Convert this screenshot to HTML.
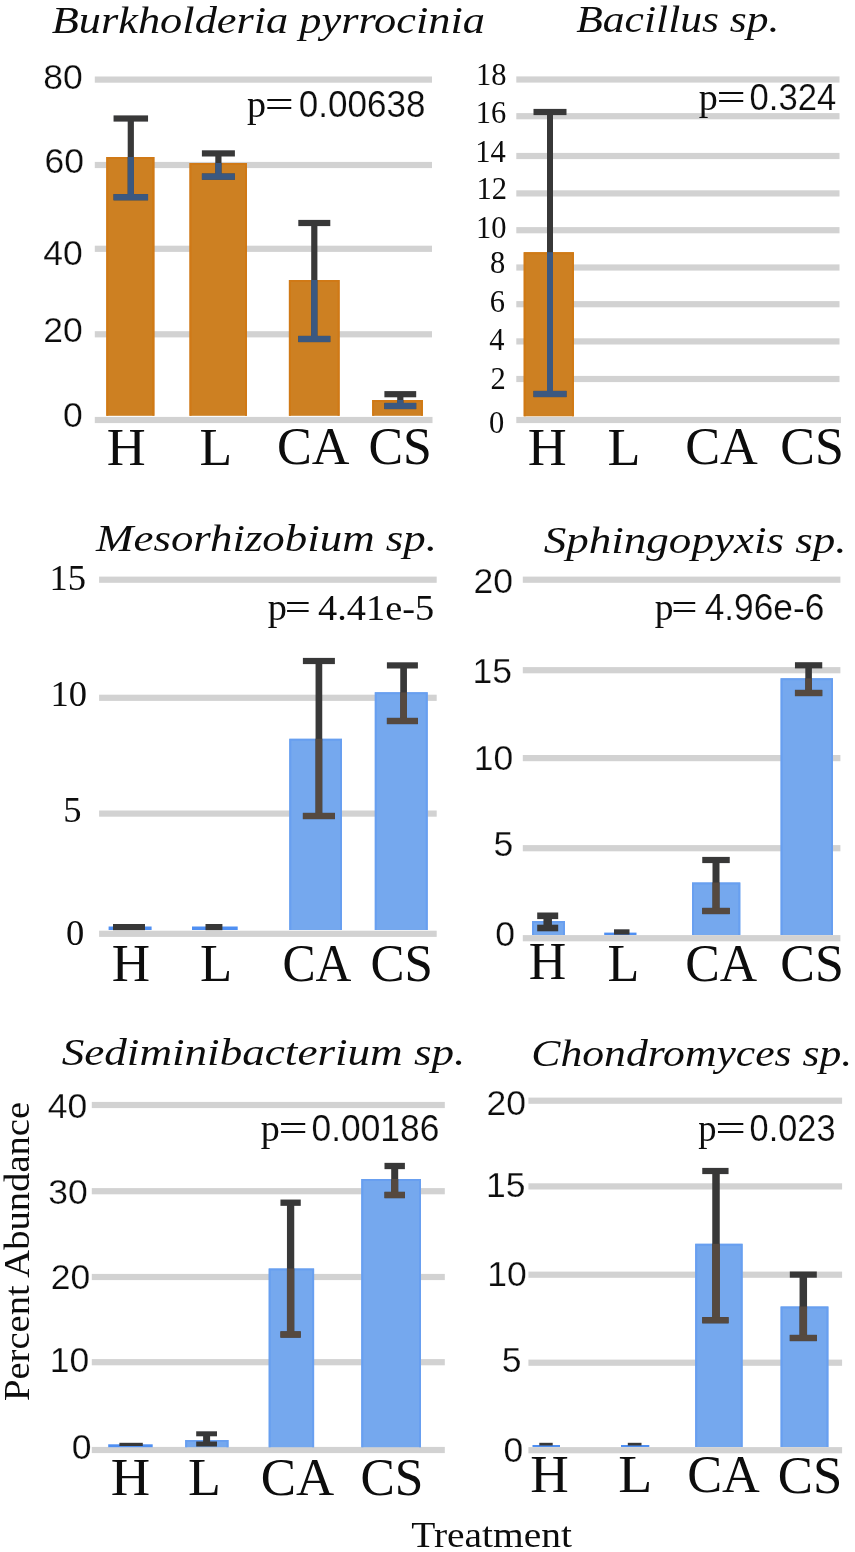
<!DOCTYPE html>
<html><head><meta charset="utf-8"><title>Figure</title>
<style>
html,body{margin:0;padding:0;background:#fff;}
body{width:855px;height:1552px;overflow:hidden;font-family:"Liberation Serif",serif;}
svg{display:block;}
svg text{fill:#0a0a0a;white-space:pre;}
</style></head>
<body>
<svg width="855" height="1552" viewBox="0 0 855 1552">
<defs><filter id="soft" x="0" y="0" width="100%" height="100%" filterUnits="userSpaceOnUse"><feGaussianBlur stdDeviation="0.5"/></filter></defs>
<rect x="0" y="0" width="855" height="1552" fill="#ffffff"/>
<g filter="url(#soft)">
<rect x="0" y="0" width="855" height="1552" fill="#ffffff"/>
<g>
<!-- Burkholderia -->
<rect x="94.8" y="76.5" width="337.2" height="6.2" fill="#d2d2d2"/>
<rect x="94.8" y="161.9" width="337.2" height="6.2" fill="#d2d2d2"/>
<rect x="94.8" y="245.7" width="337.2" height="6.2" fill="#d2d2d2"/>
<rect x="94.8" y="331.2" width="337.2" height="6.2" fill="#d2d2d2"/>
<rect x="94.8" y="416.9" width="337.7" height="6.2" fill="#d2d2d2"/>
<rect x="106.3" y="157" width="48.1" height="258.8" fill="#cd8023"/>
<path d="M107.3 415.8 V158 H153.4 V415.8" fill="none" stroke="#d07914" stroke-width="2"/>
<rect x="189.5" y="163" width="57.5" height="252.8" fill="#cd8023"/>
<path d="M190.5 415.8 V164 H246 V415.8" fill="none" stroke="#d07914" stroke-width="2"/>
<rect x="288.9" y="280" width="50.7" height="135.8" fill="#cd8023"/>
<path d="M289.9 415.8 V281 H338.6 V415.8" fill="none" stroke="#d07914" stroke-width="2"/>
<rect x="372.2" y="400" width="50.7" height="15.8" fill="#cd8023"/>
<path d="M373.2 415.8 V401 H421.9 V415.8" fill="none" stroke="#d07914" stroke-width="2"/>
<rect x="127.7" y="118.5" width="6.2" height="78.7" fill="#383839"/>
<rect x="113.55" y="115.4" width="34.5" height="6.2" fill="#383839"/>
<rect x="113.55" y="194.1" width="34.5" height="6.2" fill="#383839"/>
<rect x="127.7" y="157" width="6.2" height="40.2" fill="#3b5980"/>
<rect x="113.55" y="194.1" width="34.5" height="6.2" fill="#3b5980"/>
<rect x="215.3" y="153.4" width="6.2" height="23.2" fill="#383839"/>
<rect x="201.9" y="150.3" width="33.0" height="6.2" fill="#383839"/>
<rect x="201.9" y="173.5" width="33.0" height="6.2" fill="#383839"/>
<rect x="215.3" y="163" width="6.2" height="13.6" fill="#3b5980"/>
<rect x="201.9" y="173.5" width="33.0" height="6.2" fill="#3b5980"/>
<rect x="311.2" y="223" width="6.2" height="116" fill="#383839"/>
<rect x="298.3" y="219.9" width="32.0" height="6.2" fill="#383839"/>
<rect x="298.3" y="335.9" width="32.0" height="6.2" fill="#383839"/>
<rect x="311.2" y="280" width="6.2" height="59" fill="#3b5980"/>
<rect x="298.3" y="335.9" width="32.0" height="6.2" fill="#3b5980"/>
<rect x="397.2" y="394.2" width="6.2" height="11.8" fill="#383839"/>
<rect x="384.4" y="391.1" width="31.8" height="6.2" fill="#383839"/>
<rect x="384.4" y="402.9" width="31.8" height="6.2" fill="#383839"/>
<rect x="397.2" y="400" width="6.2" height="6" fill="#3b5980"/>
<rect x="384.4" y="402.9" width="31.8" height="6.2" fill="#3b5980"/>
<!-- Bacillus -->
<rect x="516.3" y="76.4" width="323.2" height="6.2" fill="#d2d2d2"/>
<rect x="516.3" y="113.1" width="323.2" height="6.2" fill="#d2d2d2"/>
<rect x="516.3" y="152.9" width="323.2" height="6.2" fill="#d2d2d2"/>
<rect x="516.3" y="190.3" width="323.2" height="6.2" fill="#d2d2d2"/>
<rect x="516.3" y="227.1" width="323.2" height="6.2" fill="#d2d2d2"/>
<rect x="516.3" y="264.4" width="323.2" height="6.2" fill="#d2d2d2"/>
<rect x="516.3" y="301.1" width="323.2" height="6.2" fill="#d2d2d2"/>
<rect x="516.3" y="338.3" width="323.2" height="6.2" fill="#d2d2d2"/>
<rect x="516.3" y="375.9" width="323.2" height="6.2" fill="#d2d2d2"/>
<rect x="516.3" y="416.9" width="324.7" height="6.2" fill="#d2d2d2"/>
<rect x="523.7" y="252.2" width="50.2" height="164.1" fill="#cd8023"/>
<path d="M524.7 416.3 V253.2 H572.9 V416.3" fill="none" stroke="#d07914" stroke-width="2"/>
<rect x="547.0" y="112" width="6.0" height="282" fill="#383839"/>
<rect x="533.5" y="108.9" width="33.0" height="6.2" fill="#383839"/>
<rect x="533.5" y="390.9" width="33.0" height="6.2" fill="#383839"/>
<rect x="547.0" y="252.2" width="6.0" height="141.8" fill="#3b5980"/>
<rect x="533.5" y="390.9" width="33.0" height="6.2" fill="#3b5980"/>
<!-- Mesorhizobium -->
<rect x="99.1" y="576.6" width="337.6" height="6.2" fill="#d2d2d2"/>
<rect x="99.1" y="694.7" width="337.6" height="6.2" fill="#d2d2d2"/>
<rect x="99.1" y="810.5" width="337.6" height="6.2" fill="#d2d2d2"/>
<rect x="99.1" y="930.7" width="337.6" height="6.2" fill="#d2d2d2"/>
<rect x="108.6" y="926.5" width="43.0" height="3.5" fill="#4f8ff2"/>
<rect x="192" y="926.5" width="45.7" height="3.5" fill="#4f8ff2"/>
<rect x="289.3" y="738.8" width="52.7" height="191.2" fill="#74a8ee"/>
<path d="M290.3 930 V739.8 H341 V930" fill="none" stroke="#689ff0" stroke-width="2"/>
<rect x="374.8" y="692.3" width="52.9" height="237.7" fill="#74a8ee"/>
<path d="M375.8 930 V693.3 H426.7 V930" fill="none" stroke="#689ff0" stroke-width="2"/>
<rect x="113" y="924" width="32" height="6.2" fill="#383839"/>
<rect x="205.5" y="924" width="16.9" height="6.2" fill="#383839"/>
<rect x="315.55" y="661" width="6.7" height="155" fill="#383839"/>
<rect x="302.9" y="657.9" width="32.0" height="6.2" fill="#383839"/>
<rect x="302.9" y="812.9" width="32.0" height="6.2" fill="#383839"/>
<rect x="315.55" y="738.8" width="6.7" height="77.2" fill="#55493f"/>
<rect x="302.9" y="812.9" width="32.0" height="6.2" fill="#55493f"/>
<rect x="400.25" y="665.4" width="6.7" height="55.6" fill="#383839"/>
<rect x="386.9" y="662.3" width="31.0" height="6.2" fill="#383839"/>
<rect x="386.9" y="717.9" width="31.0" height="6.2" fill="#383839"/>
<rect x="400.25" y="692.3" width="6.7" height="28.7" fill="#55493f"/>
<rect x="386.9" y="717.9" width="31.0" height="6.2" fill="#55493f"/>
<!-- Sphingopyxis -->
<rect x="522.8" y="576.6" width="317.6" height="6.2" fill="#d2d2d2"/>
<rect x="522.8" y="667.1" width="317.6" height="6.2" fill="#d2d2d2"/>
<rect x="522.8" y="755.0" width="317.6" height="6.2" fill="#d2d2d2"/>
<rect x="522.8" y="845.1" width="317.6" height="6.2" fill="#d2d2d2"/>
<rect x="522.8" y="935.1" width="317.6" height="6.2" fill="#d2d2d2"/>
<rect x="532" y="921" width="33" height="14" fill="#74a8ee"/>
<path d="M533 935 V922 H564 V935" fill="none" stroke="#689ff0" stroke-width="2"/>
<rect x="604.2" y="932.6" width="32.3" height="2.4" fill="#4f8ff2"/>
<rect x="692" y="882.5" width="48.3" height="52.5" fill="#74a8ee"/>
<path d="M693 935 V883.5 H739.3 V935" fill="none" stroke="#689ff0" stroke-width="2"/>
<rect x="780.6" y="678.3" width="52.4" height="256.7" fill="#74a8ee"/>
<path d="M781.6 935 V679.3 H832 V935" fill="none" stroke="#689ff0" stroke-width="2"/>
<rect x="543.45" y="915.8" width="8.5" height="12.2" fill="#383839"/>
<rect x="537.2" y="912.5" width="21.0" height="6.6" fill="#383839"/>
<rect x="537.2" y="924.7" width="21.0" height="6.6" fill="#383839"/>
<rect x="614" y="929.3" width="15.5" height="5.3" fill="#383839"/>
<rect x="712.5" y="860" width="7.0" height="51" fill="#383839"/>
<rect x="702.25" y="856.9" width="27.5" height="6.2" fill="#383839"/>
<rect x="702.25" y="907.9" width="27.5" height="6.2" fill="#383839"/>
<rect x="712.5" y="882.5" width="7.0" height="28.5" fill="#55493f"/>
<rect x="702.25" y="907.9" width="27.5" height="6.2" fill="#55493f"/>
<rect x="805.3" y="665.3" width="6.6" height="27.7" fill="#383839"/>
<rect x="794.95" y="662.2" width="27.3" height="6.2" fill="#383839"/>
<rect x="794.95" y="689.9" width="27.3" height="6.2" fill="#383839"/>
<rect x="805.3" y="678.3" width="6.6" height="14.7" fill="#55493f"/>
<rect x="794.95" y="689.9" width="27.3" height="6.2" fill="#55493f"/>
<!-- Sediminibacterium -->
<rect x="91.8" y="1101.9" width="353.0" height="6.2" fill="#d2d2d2"/>
<rect x="91.8" y="1188.1" width="353.0" height="6.2" fill="#d2d2d2"/>
<rect x="91.8" y="1273.9" width="353.0" height="6.2" fill="#d2d2d2"/>
<rect x="91.8" y="1359.1" width="353.0" height="6.2" fill="#d2d2d2"/>
<rect x="91.8" y="1446.9" width="353.0" height="6.2" fill="#d2d2d2"/>
<rect x="108.2" y="1444.3" width="44.5" height="2.9" fill="#4f8ff2"/>
<rect x="185.2" y="1440" width="43.3" height="7.2" fill="#74a8ee"/>
<path d="M186.2 1447.2 V1441 H227.5 V1447.2" fill="none" stroke="#689ff0" stroke-width="2"/>
<rect x="268.7" y="1268.5" width="45.4" height="178.7" fill="#74a8ee"/>
<path d="M269.7 1447.2 V1269.5 H313.1 V1447.2" fill="none" stroke="#689ff0" stroke-width="2"/>
<rect x="361.3" y="1179" width="59.7" height="268.2" fill="#74a8ee"/>
<path d="M362.3 1447.2 V1180 H420 V1447.2" fill="none" stroke="#689ff0" stroke-width="2"/>
<rect x="119.4" y="1442.8" width="23.4" height="3.2" fill="#383839"/>
<rect x="203.1" y="1433.8" width="7.0" height="10.2" fill="#383839"/>
<rect x="196.2" y="1431.3" width="20.8" height="5.0" fill="#383839"/>
<rect x="196.2" y="1441.5" width="20.8" height="5.0" fill="#383839"/>
<rect x="286.95" y="1202.7" width="7.3" height="131.8" fill="#383839"/>
<rect x="280.45" y="1199.55" width="20.3" height="6.3" fill="#383839"/>
<rect x="280.45" y="1331.35" width="20.3" height="6.3" fill="#383839"/>
<rect x="286.95" y="1268.5" width="7.3" height="66.0" fill="#55493f"/>
<rect x="280.45" y="1331.35" width="20.3" height="6.3" fill="#55493f"/>
<rect x="391.2" y="1166" width="7.0" height="29" fill="#383839"/>
<rect x="384.5" y="1162.85" width="20.4" height="6.3" fill="#383839"/>
<rect x="384.5" y="1191.85" width="20.4" height="6.3" fill="#383839"/>
<rect x="391.2" y="1179" width="7.0" height="16" fill="#55493f"/>
<rect x="384.5" y="1191.85" width="20.4" height="6.3" fill="#55493f"/>
<!-- Chondromyces -->
<rect x="528.4" y="1097.6" width="313.7" height="6.2" fill="#d2d2d2"/>
<rect x="528.4" y="1183.3" width="313.7" height="6.2" fill="#d2d2d2"/>
<rect x="528.4" y="1271.6" width="313.7" height="6.2" fill="#d2d2d2"/>
<rect x="528.4" y="1359.6" width="313.7" height="6.2" fill="#d2d2d2"/>
<rect x="528.4" y="1447.1" width="313.7" height="6.2" fill="#d2d2d2"/>
<rect x="532.5" y="1445" width="27.5" height="2" fill="#4f8ff2"/>
<rect x="621" y="1445" width="28.3" height="2" fill="#4f8ff2"/>
<rect x="695.2" y="1243.8" width="47.4" height="203.2" fill="#74a8ee"/>
<path d="M696.2 1447 V1244.8 H741.6 V1447" fill="none" stroke="#689ff0" stroke-width="2"/>
<rect x="780.6" y="1306.5" width="47.8" height="140.5" fill="#74a8ee"/>
<path d="M781.6 1447 V1307.5 H827.4 V1447" fill="none" stroke="#689ff0" stroke-width="2"/>
<rect x="539.3" y="1442.8" width="13.4" height="2.7" fill="#383839"/>
<rect x="627.8" y="1442.8" width="13.7" height="2.7" fill="#383839"/>
<rect x="712.25" y="1171" width="7.5" height="149.2" fill="#383839"/>
<rect x="702.25" y="1167.9" width="26.3" height="6.2" fill="#383839"/>
<rect x="702.25" y="1317.1" width="26.3" height="6.2" fill="#383839"/>
<rect x="712.25" y="1243.8" width="7.5" height="76.4" fill="#55493f"/>
<rect x="702.25" y="1317.1" width="26.3" height="6.2" fill="#55493f"/>
<rect x="799.55" y="1274.6" width="7.5" height="63.4" fill="#383839"/>
<rect x="789.8" y="1271.5" width="27.0" height="6.2" fill="#383839"/>
<rect x="789.8" y="1334.9" width="27.0" height="6.2" fill="#383839"/>
<rect x="799.55" y="1306.5" width="7.5" height="31.5" fill="#55493f"/>
<rect x="789.8" y="1334.9" width="27.0" height="6.2" fill="#55493f"/>
</g>
<g>
<text transform="translate(51.7,33.0) scale(1.1994,1)" font-family='"Liberation Serif", serif' font-size="37" font-style="italic">Burkholderia pyrrocinia</text>
<text transform="translate(43.2,88.8) scale(1.0,1)" font-family='"Liberation Sans", sans-serif' font-size="35.5" stroke="#fff" stroke-width="0.25">80</text>
<text transform="translate(44.6,173.4) scale(1.0,1)" font-family='"Liberation Sans", sans-serif' font-size="35.5" stroke="#fff" stroke-width="0.25">60</text>
<text transform="translate(43.2,265) scale(1.0,1)" font-family='"Liberation Sans", sans-serif' font-size="35.5" stroke="#fff" stroke-width="0.25">40</text>
<text transform="translate(43.2,342.4) scale(1.0,1)" font-family='"Liberation Sans", sans-serif' font-size="35.5" stroke="#fff" stroke-width="0.25">20</text>
<text transform="translate(62.95,426.8) scale(1.0,1)" font-family='"Liberation Sans", sans-serif' font-size="35.5" stroke="#fff" stroke-width="0.25">0</text>
<text transform="translate(576.21,31.9) scale(1.1775,1)" font-family='"Liberation Serif", serif' font-size="37" font-style="italic">Bacillus sp.</text>
<text transform="translate(476.05,85.2) scale(1.0,1)" font-family='"Liberation Serif", serif' font-size="30.5">18</text>
<text transform="translate(475.8,123.2) scale(1.0,1)" font-family='"Liberation Serif", serif' font-size="30.5">16</text>
<text transform="translate(475.3,162.4) scale(1.0,1)" font-family='"Liberation Serif", serif' font-size="30.5">14</text>
<text transform="translate(476.55,198.6) scale(1.0,1)" font-family='"Liberation Serif", serif' font-size="30.5">12</text>
<text transform="translate(476.05,238.3) scale(1.0,1)" font-family='"Liberation Serif", serif' font-size="30.5">10</text>
<text transform="translate(490.0,272.6) scale(1.0,1)" font-family='"Liberation Serif", serif' font-size="30.5">8</text>
<text transform="translate(489.75,311.8) scale(1.0,1)" font-family='"Liberation Serif", serif' font-size="30.5">6</text>
<text transform="translate(489.25,349.7) scale(1.0,1)" font-family='"Liberation Serif", serif' font-size="30.5">4</text>
<text transform="translate(490.5,388.9) scale(1.0,1)" font-family='"Liberation Serif", serif' font-size="30.5">2</text>
<text transform="translate(489.0,433) scale(1.0,1)" font-family='"Liberation Serif", serif' font-size="30.5">0</text>
<text transform="translate(96.11,550.5) scale(1.2133,1)" font-family='"Liberation Serif", serif' font-size="37" font-style="italic">Mesorhizobium sp.</text>
<text transform="translate(49.4,590) scale(1.0,1)" font-family='"Liberation Serif", serif' font-size="36.5">15</text>
<text transform="translate(50.5,705.5) scale(1.0,1)" font-family='"Liberation Serif", serif' font-size="36.5">10</text>
<text transform="translate(63.25,822) scale(1.0,1)" font-family='"Liberation Serif", serif' font-size="36.5">5</text>
<text transform="translate(66.05,944.5) scale(1.0,1)" font-family='"Liberation Serif", serif' font-size="36.5">0</text>
<text transform="translate(543.69,552.9) scale(1.2184,1)" font-family='"Liberation Serif", serif' font-size="37" font-style="italic">Sphingopyxis sp.</text>
<text transform="translate(473.6,592.5) scale(1.0,1)" font-family='"Liberation Sans", sans-serif' font-size="35.5" stroke="#fff" stroke-width="0.25">20</text>
<text transform="translate(472.4,682.5) scale(1.0,1)" font-family='"Liberation Sans", sans-serif' font-size="35.5" stroke="#fff" stroke-width="0.25">15</text>
<text transform="translate(473.8,770) scale(1.0,1)" font-family='"Liberation Sans", sans-serif' font-size="35.5" stroke="#fff" stroke-width="0.25">10</text>
<text transform="translate(493.55,856) scale(1.0,1)" font-family='"Liberation Sans", sans-serif' font-size="35.5" stroke="#fff" stroke-width="0.25">5</text>
<text transform="translate(495.15,946) scale(1.0,1)" font-family='"Liberation Sans", sans-serif' font-size="35.5" stroke="#fff" stroke-width="0.25">0</text>
<text transform="translate(61.69,1064.6) scale(1.2205,1)" font-family='"Liberation Serif", serif' font-size="37" font-style="italic">Sediminibacterium sp.</text>
<text transform="translate(47.7,1117.5) scale(1.0,1)" font-family='"Liberation Sans", sans-serif' font-size="35.5" stroke="#fff" stroke-width="0.25">40</text>
<text transform="translate(48.2,1204) scale(1.0,1)" font-family='"Liberation Sans", sans-serif' font-size="35.5" stroke="#fff" stroke-width="0.25">30</text>
<text transform="translate(50.7,1289) scale(1.0,1)" font-family='"Liberation Sans", sans-serif' font-size="35.5" stroke="#fff" stroke-width="0.25">20</text>
<text transform="translate(49.7,1372.3) scale(1.0,1)" font-family='"Liberation Sans", sans-serif' font-size="35.5" stroke="#fff" stroke-width="0.25">10</text>
<text transform="translate(71.75,1459.2) scale(1.0,1)" font-family='"Liberation Sans", sans-serif' font-size="35.5" stroke="#fff" stroke-width="0.25">0</text>
<text transform="translate(531.34,1066.3) scale(1.1798,1)" font-family='"Liberation Serif", serif' font-size="37" font-style="italic">Chondromyces sp.</text>
<text transform="translate(486.6,1115) scale(1.0,1)" font-family='"Liberation Sans", sans-serif' font-size="35.5" stroke="#fff" stroke-width="0.25">20</text>
<text transform="translate(486.0,1196.6) scale(1.0,1)" font-family='"Liberation Sans", sans-serif' font-size="35.5" stroke="#fff" stroke-width="0.25">15</text>
<text transform="translate(487.2,1286.4) scale(1.0,1)" font-family='"Liberation Sans", sans-serif' font-size="35.5" stroke="#fff" stroke-width="0.25">10</text>
<text transform="translate(501.75,1372.2) scale(1.0,1)" font-family='"Liberation Sans", sans-serif' font-size="35.5" stroke="#fff" stroke-width="0.25">5</text>
<text transform="translate(503.55,1461.6) scale(1.0,1)" font-family='"Liberation Sans", sans-serif' font-size="35.5" stroke="#fff" stroke-width="0.25">0</text>
<text transform="translate(246.98,116.6) scale(1.0303,1)" font-family='"Liberation Serif", serif' font-size="37">p</text>
<text transform="translate(264.77,116.6) scale(1.3913,1)" font-family='"Liberation Serif", serif' font-size="37">=</text>
<text transform="translate(298.85,116.6) scale(0.9648,1)" font-family='"Liberation Sans", sans-serif' font-size="36.3" stroke="#fff" stroke-width="0.2">0.00638</text>
<text transform="translate(698.68,110.2) scale(1.0303,1)" font-family='"Liberation Serif", serif' font-size="37">p</text>
<text transform="translate(716.54,110.2) scale(1.4029,1)" font-family='"Liberation Serif", serif' font-size="37">=</text>
<text transform="translate(749.57,110.2) scale(0.9541,1)" font-family='"Liberation Sans", sans-serif' font-size="36.3" stroke="#fff" stroke-width="0.2">0.324</text>
<text transform="translate(267.78,620) scale(1.0364,1)" font-family='"Liberation Serif", serif' font-size="37">p</text>
<text transform="translate(284.81,620) scale(1.2522,1)" font-family='"Liberation Serif", serif' font-size="37">=</text>
<text transform="translate(318.01,620) scale(1.0513,1)" font-family='"Liberation Serif", serif' font-size="36.5">4.41e-5</text>
<text transform="translate(654.79,619.5) scale(1.0121,1)" font-family='"Liberation Serif", serif' font-size="37">p</text>
<text transform="translate(671.3,619.5) scale(1.258,1)" font-family='"Liberation Serif", serif' font-size="37">=</text>
<text transform="translate(704.67,619.5) scale(0.9723,1)" font-family='"Liberation Sans", sans-serif' font-size="36.3" stroke="#fff" stroke-width="0.2">4.96e-6</text>
<text transform="translate(260.68,1141.2) scale(1.0303,1)" font-family='"Liberation Serif", serif' font-size="37">p</text>
<text transform="translate(278.54,1141.2) scale(1.4029,1)" font-family='"Liberation Serif", serif' font-size="37">=</text>
<text transform="translate(311.54,1141.2) scale(0.9742,1)" font-family='"Liberation Sans", sans-serif' font-size="36.3" stroke="#fff" stroke-width="0.2">0.00186</text>
<text transform="translate(698.21,1141.3) scale(0.9879,1)" font-family='"Liberation Serif", serif' font-size="37">p</text>
<text transform="translate(715.22,1141.3) scale(1.4725,1)" font-family='"Liberation Serif", serif' font-size="37">=</text>
<text transform="translate(749.58,1141.3) scale(0.9459,1)" font-family='"Liberation Sans", sans-serif' font-size="36.3" stroke="#fff" stroke-width="0.2">0.023</text>
<text transform="translate(106.74,464.6) scale(1.0377,1)" font-family='"Liberation Serif", serif' font-size="52">H</text>
<text transform="translate(199.46,464.6) scale(1.0275,1)" font-family='"Liberation Serif", serif' font-size="52">L</text>
<text transform="translate(276.89,464.3) scale(1.0036,1)" font-family='"Liberation Serif", serif' font-size="52">CA</text>
<text transform="translate(368.41,464.4) scale(0.9966,1)" font-family='"Liberation Serif", serif' font-size="52">CS</text>
<text transform="translate(527.74,464.6) scale(1.0377,1)" font-family='"Liberation Serif", serif' font-size="52">H</text>
<text transform="translate(607.54,464.6) scale(1.0385,1)" font-family='"Liberation Serif", serif' font-size="52">L</text>
<text transform="translate(685.19,464.2) scale(1.0065,1)" font-family='"Liberation Serif", serif' font-size="52">CA</text>
<text transform="translate(780.3,464.4) scale(0.9983,1)" font-family='"Liberation Serif", serif' font-size="52">CS</text>
<text transform="translate(111.67,980.6) scale(1.0203,1)" font-family='"Liberation Serif", serif' font-size="52">H</text>
<text transform="translate(199.88,980.6) scale(1.0128,1)" font-family='"Liberation Serif", serif' font-size="52">L</text>
<text transform="translate(282.49,980.8) scale(0.9548,1)" font-family='"Liberation Serif", serif' font-size="52">CA</text>
<text transform="translate(370.44,981) scale(0.9812,1)" font-family='"Liberation Serif", serif' font-size="52">CS</text>
<text transform="translate(528.8,978.9) scale(0.9971,1)" font-family='"Liberation Serif", serif' font-size="52">H</text>
<text transform="translate(607.5,980.9) scale(1.0018,1)" font-family='"Liberation Serif", serif' font-size="52">L</text>
<text transform="translate(685.21,980.8) scale(0.9964,1)" font-family='"Liberation Serif", serif' font-size="52">CA</text>
<text transform="translate(780.3,981) scale(0.9983,1)" font-family='"Liberation Serif", serif' font-size="52">CS</text>
<text transform="translate(110.83,1495.1) scale(1.0493,1)" font-family='"Liberation Serif", serif' font-size="52">H</text>
<text transform="translate(188.05,1495.1) scale(1.0349,1)" font-family='"Liberation Serif", serif' font-size="52">L</text>
<text transform="translate(260.76,1494.9) scale(1.0179,1)" font-family='"Liberation Serif", serif' font-size="52">CA</text>
<text transform="translate(360.52,1495) scale(0.9897,1)" font-family='"Liberation Serif", serif' font-size="52">CS</text>
<text transform="translate(530.26,1491.8) scale(1.0261,1)" font-family='"Liberation Serif", serif' font-size="52">H</text>
<text transform="translate(618.19,1491.8) scale(1.0716,1)" font-family='"Liberation Serif", serif' font-size="52">L</text>
<text transform="translate(687.19,1492.4) scale(1.0065,1)" font-family='"Liberation Serif", serif' font-size="52">CA</text>
<text transform="translate(777.87,1492.5) scale(1.0137,1)" font-family='"Liberation Serif", serif' font-size="52">CS</text>
<text transform="translate(411.28,1547.2) scale(1.0957,1)" font-family='"Liberation Serif", serif' font-size="36">Treatment</text>
<text transform="translate(28.9,1401.07) rotate(-90) scale(1.0732,1)" font-family='"Liberation Serif", serif' font-size="36">Percent Abundance</text>
</g>
</g>
</svg>
</body></html>
